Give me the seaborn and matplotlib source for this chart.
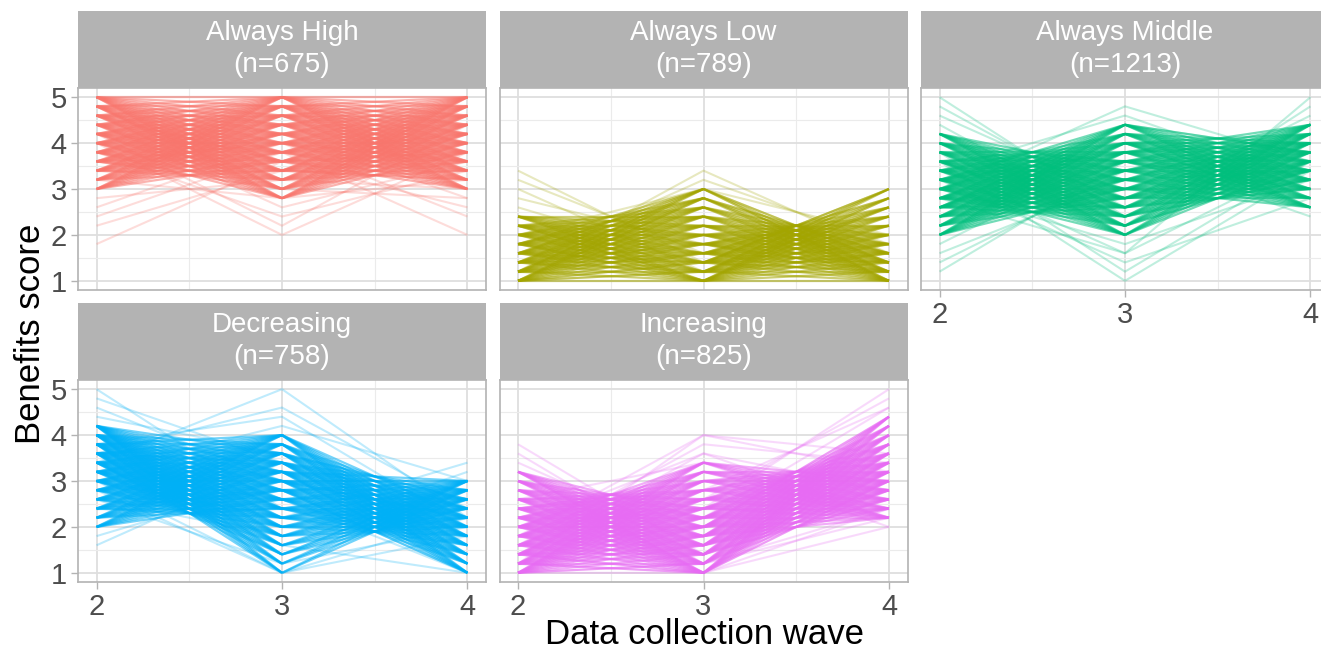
import numpy as np
import pandas as pd
import matplotlib
matplotlib.use("Agg")
import matplotlib.pyplot as plt
import seaborn as sns

# ---------------- data ----------------
GROUPS = ["Always High", "Always Low", "Always Middle", "Decreasing", "Increasing"]
GROUP_N = [675, 789, 1213, 758, 825]
COLORS = ["#F8766D", "#A3A500", "#00BF7D", "#00B0F6", "#E76BF3"]
WAVES = [2, 3, 4]
X_TICKS = [2, 3, 4]
Y_TICKS = [1, 2, 3, 4, 5]

# score levels forming the dense core at waves 2, 3, 4
HIGH_W2 = [3.0, 3.2, 3.4, 3.6, 3.8, 4.0, 4.2, 4.4, 4.6, 4.8, 5.0]
HIGH_W3 = [2.8, 3.0, 3.2, 3.4, 3.6, 3.8, 4.0, 4.2, 4.4, 4.6, 4.8, 5.0]
HIGH_W4 = [3.0, 3.2, 3.4, 3.6, 3.8, 4.0, 4.2, 4.4, 4.6, 4.8, 5.0]
LOW_W2 = [1.0, 1.2, 1.4, 1.6, 1.8, 2.0, 2.2, 2.4]
LOW_W3 = [1.0, 1.2, 1.4, 1.6, 1.8, 2.0, 2.2, 2.4, 2.6, 2.8, 3.0]
LOW_W4 = [1.0, 1.2, 1.4, 1.6, 1.8, 2.0, 2.2, 2.4, 2.6, 2.8, 3.0]
MID_W2 = [2.0, 2.2, 2.4, 2.6, 2.8, 3.0, 3.2, 3.4, 3.6, 3.8, 4.0, 4.2]
MID_W3 = [2.0, 2.2, 2.4, 2.6, 2.8, 3.0, 3.2, 3.4, 3.6, 3.8, 4.0, 4.2, 4.4]
MID_W4 = [2.6, 2.8, 3.0, 3.2, 3.4, 3.6, 3.8, 4.0, 4.2, 4.4]
DEC_W2 = [2.0, 2.2, 2.4, 2.6, 2.8, 3.0, 3.2, 3.4, 3.6, 3.8, 4.0, 4.2]
DEC_W3 = [1.0, 1.2, 1.4, 1.6, 1.8, 2.0, 2.2, 2.4, 2.6, 2.8, 3.0, 3.2, 3.4, 3.6, 3.8, 4.0]
DEC_W4 = [1.0, 1.2, 1.4, 1.6, 1.8, 2.0, 2.2, 2.4, 2.6, 2.8, 3.0]
INC_W2 = [1.0, 1.2, 1.4, 1.6, 1.8, 2.0, 2.2, 2.4, 2.6, 2.8, 3.0, 3.2]
INC_W3 = [1.0, 1.2, 1.4, 1.6, 1.8, 2.0, 2.2, 2.4, 2.6, 2.8, 3.0, 3.2, 3.4]
INC_W4 = [2.2, 2.4, 2.6, 2.8, 3.0, 3.2, 3.4, 3.6, 3.8, 4.0, 4.2, 4.4]

# range of the dense band half-way between waves (2-3, 3-4)
HIGH_BAND = [(3.3, 5.0), (3.3, 5.0)]
LOW_BAND = [(1.0, 2.4), (1.0, 2.2)]
MID_BAND = [(2.5, 3.85), (2.8, 4.15)]
DEC_BAND = [(2.3, 3.95), (1.9, 3.1)]
INC_BAND = [(1.1, 2.75), (2.0, 3.2)]

# sparse individual trajectories outside the core (wave 2, wave 3, wave 4)
HIGH_EXTRA = [(1.8, 3.6, 3.8), (2.2, 3.4, 3.2), (2.4, 3.8, 4.2), (2.6, 4.0, 3.6),
              (2.8, 3.2, 3.0), (4.0, 2.0, 3.8), (4.2, 2.2, 4.4), (3.8, 2.4, 3.4),
              (4.4, 2.6, 3.6), (4.2, 3.8, 2.0), (3.6, 4.0, 2.4), (4.6, 3.6, 2.6),
              (3.4, 4.2, 2.8), (4.8, 3.0, 2.8), (3.2, 2.8, 3.2)]
LOW_EXTRA = [(3.4, 1.4, 1.2), (3.2, 1.6, 1.4), (3.0, 1.2, 1.6), (2.8, 1.8, 1.2),
             (2.6, 1.4, 1.8), (1.2, 3.4, 1.6), (1.4, 3.2, 1.8), (1.6, 3.0, 2.0),
             (1.2, 3.0, 1.4), (1.8, 2.8, 1.2), (1.0, 2.8, 1.6), (2.0, 3.0, 1.0),
             (1.4, 1.2, 3.0), (1.6, 1.4, 3.0), (1.2, 1.6, 2.8), (1.0, 1.2, 2.6),
             (1.8, 1.0, 2.8), (1.4, 1.8, 2.4), (2.2, 1.0, 2.6), (1.0, 1.4, 3.0)]
MID_EXTRA = [(5.0, 2.4, 3.2), (4.8, 2.6, 3.0), (4.6, 2.8, 3.6), (4.4, 2.2, 3.4),
             (1.2, 3.6, 3.0), (1.4, 3.4, 3.8), (1.6, 3.2, 3.4), (1.8, 3.8, 4.0),
             (3.0, 4.8, 3.6), (3.4, 4.6, 3.2), (2.6, 4.4, 3.8), (3.6, 1.0, 3.4),
             (3.8, 1.2, 3.6), (3.2, 1.4, 2.8), (2.8, 1.6, 3.6), (3.0, 1.8, 3.2),
             (3.4, 1.6, 5.0), (3.6, 2.2, 4.8), (2.8, 2.6, 4.6), (3.2, 3.8, 2.4),
             (2.6, 4.0, 2.6)]
DEC_EXTRA = [(5.0, 2.4, 2.0), (4.8, 3.4, 1.8), (4.6, 3.0, 2.2), (4.4, 3.6, 2.6),
             (1.6, 3.4, 2.4), (1.8, 3.0, 2.2), (3.4, 5.0, 2.2), (3.6, 4.6, 2.4),
             (3.8, 4.4, 2.0), (3.2, 4.2, 3.0), (2.8, 1.0, 2.2), (3.0, 1.0, 1.8),
             (2.6, 1.2, 2.0), (3.0, 2.2, 3.4), (2.6, 1.8, 3.2), (3.4, 1.4, 3.0),
             (3.2, 2.6, 1.0), (2.8, 3.2, 1.0), (3.6, 3.4, 1.2), (2.4, 2.8, 1.0),
             (3.8, 1.6, 1.0)]
INC_EXTRA = [(3.8, 1.4, 2.6), (3.6, 1.2, 2.4), (3.4, 1.6, 2.8), (3.2, 1.0, 3.0),
             (1.2, 4.0, 3.2), (1.6, 3.8, 3.4), (1.4, 3.6, 2.8), (1.8, 4.0, 3.6),
             (1.0, 1.0, 2.4), (1.2, 1.0, 2.0), (1.0, 1.2, 2.2), (1.4, 1.0, 3.6),
             (2.0, 2.4, 5.0), (1.8, 2.6, 4.8), (2.2, 2.2, 4.6), (2.4, 2.8, 4.6),
             (1.6, 2.0, 4.4), (2.6, 3.4, 2.0), (2.0, 3.6, 2.2)]

CORE = {"Always High": (HIGH_W2, HIGH_W3, HIGH_W4),
        "Always Low": (LOW_W2, LOW_W3, LOW_W4),
        "Always Middle": (MID_W2, MID_W3, MID_W4),
        "Decreasing": (DEC_W2, DEC_W3, DEC_W4),
        "Increasing": (INC_W2, INC_W3, INC_W4)}
BANDS = {"Always High": HIGH_BAND, "Always Low": LOW_BAND, "Always Middle": MID_BAND,
         "Decreasing": DEC_BAND, "Increasing": INC_BAND}
EXTRA = {"Always High": HIGH_EXTRA, "Always Low": LOW_EXTRA, "Always Middle": MID_EXTRA,
         "Decreasing": DEC_EXTRA, "Increasing": INC_EXTRA}

rows = []
uid = 0
for g in GROUPS:
    lv = CORE[g]
    for k in range(2):
        lo, hi = BANDS[g][k]
        for a in lv[k]:
            for b in lv[k + 1]:
                m = (a + b) / 2
                if lo - 1e-9 <= m <= hi + 1e-9:
                    rows.append((g, "core", uid, WAVES[k], a))
                    rows.append((g, "core", uid, WAVES[k + 1], b))
                    uid += 1
    for tr in EXTRA[g]:
        for w, s in zip(WAVES, tr):
            rows.append((g, "extra", uid, w, s))
        uid += 1
df = pd.DataFrame(rows, columns=["group", "kind", "unit", "wave", "score"])

# ---------------- drawing ----------------
sns.set_style("white")
plt.rcParams["font.family"] = ["Liberation Sans", "DejaVu Sans"]

W, H = 1321, 652
fig = plt.figure(figsize=(W / 100, H / 100), dpi=100)
fig.patch.set_facecolor("white")

COLS = [(78, 486), (499.5, 907.5), (921, 1329)]
ROWS = [(11, 88, 290), (303, 380, 582)]


def px_axes(l, t, r, b):
    return fig.add_axes([l / W, 1 - b / H, (r - l) / W, (b - t) / H])


for i, g in enumerate(GROUPS):
    r, c = divmod(i, 3)
    l, rr = COLS[c]
    st, pt, pb = ROWS[r]
    # strip
    sax = px_axes(l, st, rr, pt)
    sax.set_facecolor("#B3B3B3")
    sax.set_xticks([]); sax.set_yticks([])
    for sp in sax.spines.values():
        sp.set_visible(False)
    sax.text(0.5, 0.5, f"{g}\n(n={GROUP_N[i]})", ha="center", va="center",
             color="white", fontsize=20, linespacing=1.3, transform=sax.transAxes)
    # panel
    ax = px_axes(l, pt, rr, pb)
    ax.set_facecolor("white")
    sub = df[df.group == g]
    sns.lineplot(data=sub[sub.kind == "core"], x="wave", y="score", units="unit",
                 estimator=None, color=COLORS[i], alpha=0.55, lw=1.6, legend=False,
                 sort=False, ax=ax, solid_capstyle="butt")
    sns.lineplot(data=sub[sub.kind == "extra"], x="wave", y="score", units="unit",
                 estimator=None, color=COLORS[i], alpha=0.25, lw=1.5, legend=False,
                 sort=False, ax=ax, solid_capstyle="butt")
    ax.set_xlim(1.9, 4.1)
    ax.set_ylim(0.8, 5.2)
    ax.set_xticks(X_TICKS)
    ax.set_yticks(Y_TICKS)
    ax.set_xticks([2.5, 3.5], minor=True)
    ax.set_yticks([1.5, 2.5, 3.5, 4.5], minor=True)
    ax.set_axisbelow(True)
    ax.grid(True, which="major", color="#DEDEDE", lw=1.3)
    ax.grid(True, which="minor", color="#EBEBEB", lw=0.8)
    for sp in ax.spines.values():
        sp.set_color("#B3B3B3")
        sp.set_linewidth(1.2)
        sp.set_zorder(5)
    ax.set_xlabel("")
    ax.set_ylabel("")
    show_x = (r == 1) or (r == 0 and c == 2)
    show_y = (c == 0)
    ax.tick_params(axis="both", which="minor", length=0)
    ax.tick_params(axis="x", which="major", length=5 if show_x else 0, width=1,
                   color="#B3B3B3", labelsize=21, labelcolor="#4D4D4D", pad=3,
                   labelbottom=show_x, bottom=show_x)
    ax.tick_params(axis="y", which="major", length=5 if show_y else 0, width=1,
                   color="#B3B3B3", labelsize=21, labelcolor="#4D4D4D", pad=3,
                   labelleft=show_y, left=show_y)

fig.text(704 / W, 1 - 635 / H, "Data collection wave", ha="center", va="center",
         fontsize=25, color="black")
fig.text(30 / W, 1 - 334 / H, "Benefits score", ha="center", va="center",
         rotation=90, fontsize=25, color="black")

fig.savefig("out.png", dpi=100, facecolor="white")
